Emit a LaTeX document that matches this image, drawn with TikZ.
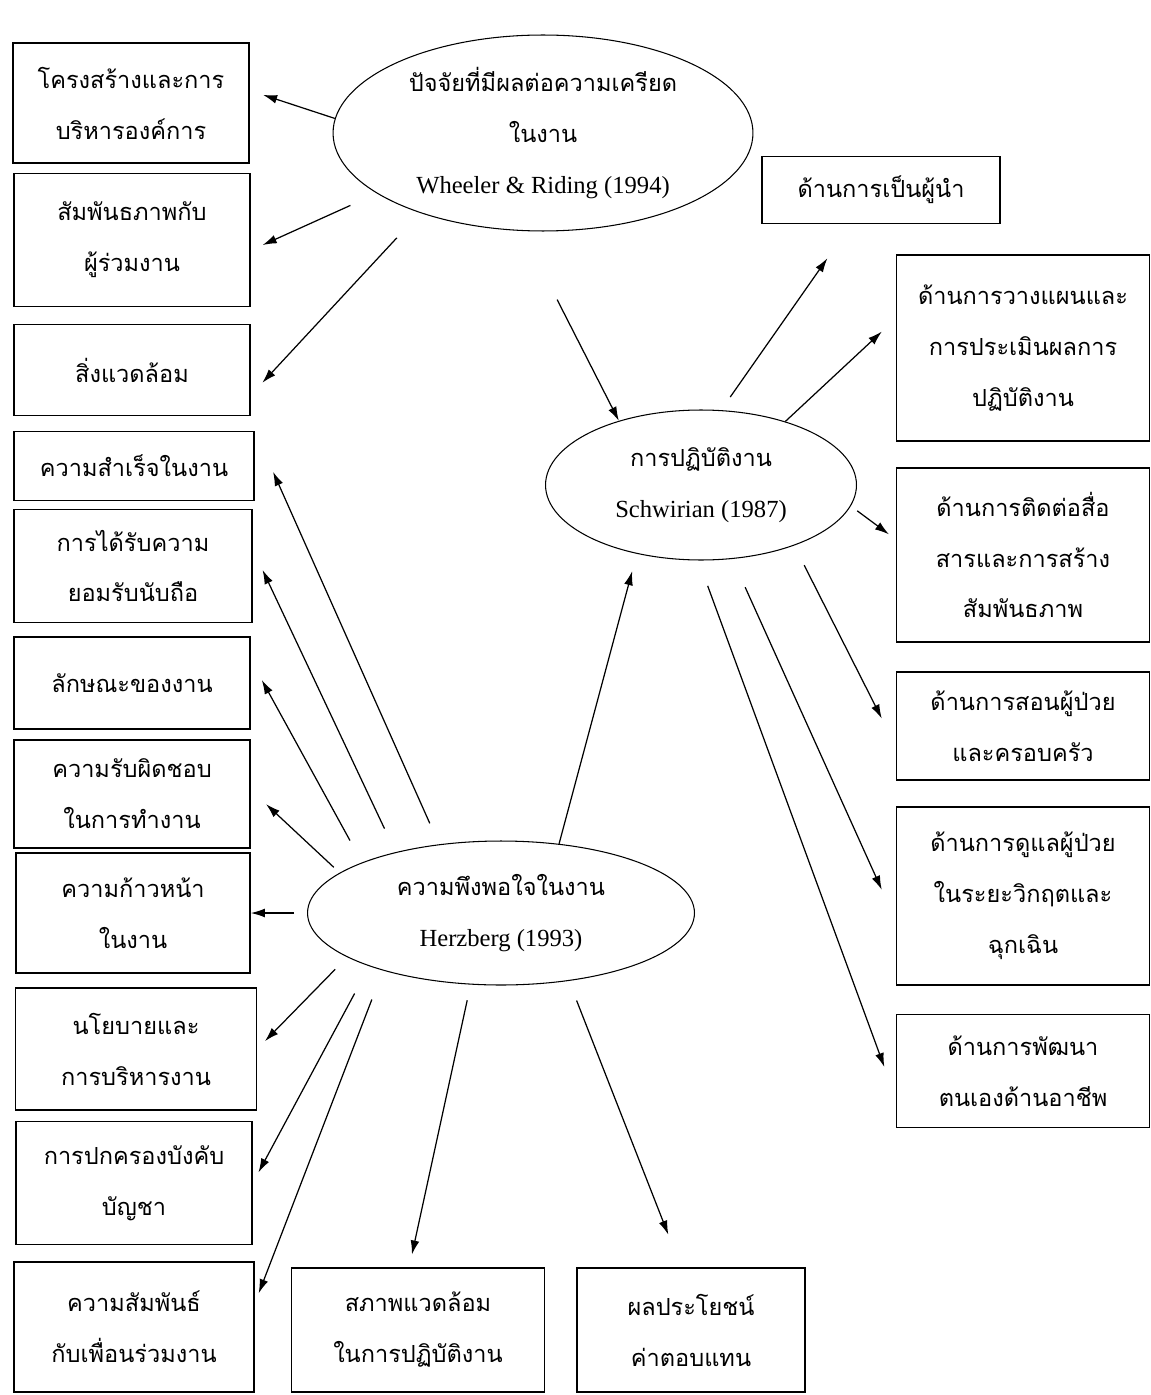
\documentclass[tikz,border=0pt]{standalone}
\usepackage{fontspec}
\setmainfont{Liberation Serif}
\newfontfamily\thaifont[Script=Thai]{Loma}
\newcommand\thaitext{\thaifont\fontsize{13.4}{29}\selectfont}
\usetikzlibrary{shapes.geometric,arrows.meta}
\begin{document}
\begin{tikzpicture}[x=0.02cm,y=-0.02cm,
  box/.style={draw,line width=0.9pt,align=center,inner sep=0pt,font=\thaitext},
  oval/.style={draw,ellipse,line width=0.6pt,align=center,inner sep=0pt,font=\fontsize{14}{29}\selectfont},
  arr/.style={-{Latex[length=8pt,width=5pt]},line width=0.7pt}]
\useasboundingbox (0,0) rectangle (1151,1395);
% three ellipses
\node[oval,minimum width=8.4cm,minimum height=3.92cm] (e1) at (543,133) {{\thaitext ปัจจัยที่มีผลต่อความเครียด}\\{\thaitext ในงาน}\\Wheeler \& Riding (1994)};
\node[oval,minimum width=6.22cm,minimum height=3cm] (e2) at (701,485) {{\thaitext การปฏิบัติงาน}\\Schwirian (1987)};
\node[oval,minimum width=7.74cm,minimum height=2.88cm] (e3) at (501,913) {{\thaitext ความพึงพอใจในงาน}\\Herzberg (1993)};
% left column
\node[box,minimum width=4.72cm,minimum height=2.4cm] (b1) at (131,103) {โครงสร้างและการ\\บริหารองค์การ};
\node[box,minimum width=4.72cm,minimum height=2.66cm] (b2) at (132,240) {สัมพันธภาพกับ\\ผู้ร่วมงาน};
\node[box,minimum width=4.72cm,minimum height=1.82cm] (b3) at (132,370) {สิ่งแวดล้อม};
\node[box,minimum width=4.8cm,minimum height=1.38cm] (b4) at (134,466) {ความสำเร็จในงาน};
\node[box,minimum width=4.76cm,minimum height=2.26cm] (b5) at (133,566) {การได้รับความ\\ยอมรับนับถือ};
\node[box,minimum width=4.72cm,minimum height=1.84cm] (b6) at (132,683) {ลักษณะของงาน};
\node[box,minimum width=4.72cm,minimum height=2.16cm] (b7) at (132,794) {ความรับผิดชอบ\\ในการทำงาน};
\node[box,minimum width=4.68cm,minimum height=2.4cm] (b8) at (133,913) {ความก้าวหน้า\\ในงาน};
\node[box,minimum width=4.82cm,minimum height=2.44cm] (b9) at (136,1049) {นโยบายและ\\การบริหารงาน};
\node[box,minimum width=4.72cm,minimum height=2.46cm] (b10) at (134,1183) {การปกครองบังคับ\\บัญชา};
\node[box,minimum width=4.8cm,minimum height=2.6cm] (b11) at (134,1327) {ความสัมพันธ์\\กับเพื่อนร่วมงาน};
% bottom row
\node[box,minimum width=5.06cm,minimum height=2.48cm] (bb1) at (418,1330) {สภาพแวดล้อม\\ในการปฏิบัติงาน};
\node[box,minimum width=4.56cm,minimum height=2.48cm] (bb2) at (691,1330) {ผลประโยชน์\\ค่าตอบแทน};
% right column
\node[box,minimum width=4.76cm,minimum height=1.34cm] (r1) at (881,190) {ด้านการเป็นผู้นำ};
\node[box,minimum width=5.06cm,minimum height=3.72cm] (r2) at (1023,348) {ด้านการวางแผนและ\\การประเมินผลการ\\ปฏิบัติงาน};
\node[box,minimum width=5.06cm,minimum height=3.48cm] (r3) at (1023,555) {ด้านการติดต่อสื่อ\\สารและการสร้าง\\สัมพันธภาพ};
\node[box,minimum width=5.06cm,minimum height=2.16cm] (r4) at (1023,726) {ด้านการสอนผู้ป่วย\\และครอบครัว};
\node[box,minimum width=5.06cm,minimum height=3.56cm] (r5) at (1023,896) {ด้านการดูแลผู้ป่วย\\ในระยะวิกฤตและ\\ฉุกเฉิน};
\node[box,minimum width=5.06cm,minimum height=2.26cm] (r6) at (1023,1071) {ด้านการพัฒนา\\ตนเองด้านอาชีพ};
% arrows from the stress ellipse
\draw[arr,shorten >=0.28cm] (e1.176) -- (b1.6);
\draw[arr,shorten <=0.58cm,shorten >=0.26cm] (e1.200) -- (b2.355);
\draw[arr,shorten <=0.68cm,shorten >=0.34cm] (e1.213) -- (b3.348);
\draw[arr,shorten <=1.54cm] (e1.258) -- (e2.142);
% arrows from the performance ellipse
\draw[arr,shorten <=0.32cm,shorten >=0.83cm] (e2.75) -- (r1.229);
\draw[arr,shorten >=0.38cm] (e2.37) -- (r2.167);
\draw[arr,shorten <=0.16cm,shorten >=0.17cm] (e2.352) -- (r3.173);
\draw[arr,shorten <=0.44cm,shorten >=0.62cm] (e2.327) -- (r4.189);
\draw[arr,shorten <=0.62cm,shorten >=0.68cm] (e2.293) -- (r5.191);
\draw[arr,shorten <=0.54cm,shorten >=0.66cm] (e2.268) -- (r6.192);
% arrows from the satisfaction ellipse
\draw[arr,shorten >=0.36cm] (e3.50) -- (e2.227);
\draw[arr,shorten <=0.46cm,shorten >=0.9cm] (e3.132) -- (b4.north east);
\draw[arr,shorten <=0.52cm,shorten >=0.46cm] (e3.150) -- (b5.8);
\draw[arr,shorten <=0.5cm,shorten >=0.46cm] (e3.160) -- (b6.11);
\draw[arr,shorten <=0.16cm,shorten >=0.42cm] (e3.166) -- (b7.2);
\draw[arr,shorten <=0.26cm] (e3.west) -- (b8.east);
\draw[arr,shorten <=0.34cm,shorten >=0.22cm] (e3.196) -- (b9.east);
\draw[arr,shorten <=0.62cm,shorten >=0.24cm] (e3.202) -- (b10.east);
\draw[arr,shorten <=0.62cm,shorten >=0.22cm] (e3.206) -- (b11.11);
\draw[arr,shorten <=0.32cm,shorten >=0.26cm] (e3.247) -- (bb1.98);
\draw[arr,shorten <=0.42cm,shorten >=0.7cm] (e3.315) -- (bb2.99);
\end{tikzpicture}
\end{document}
